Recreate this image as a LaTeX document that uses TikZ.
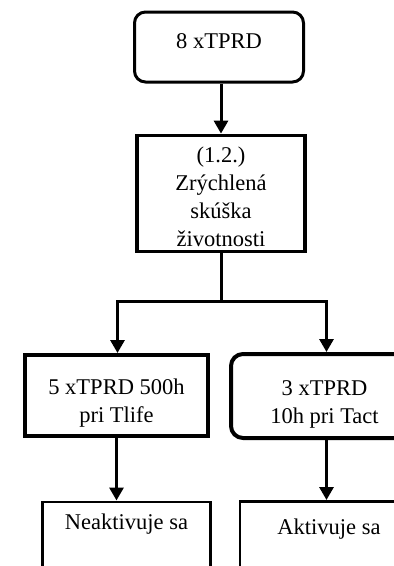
\documentclass[tikz,border=0pt]{standalone}
\usepackage{fontspec}
\setmainfont{Liberation Serif}
\usetikzlibrary{arrows.meta}

\begin{document}
\begin{tikzpicture}[x=1pt, y=-1pt,
        box/.style={draw, line width=3pt, align=center, inner sep=0pt,
            font=\fontsize{22.5}{28}\selectfont},
        rbox/.style={box, rounded corners=11pt},
        arr/.style={line width=3pt, -{Triangle[width=14pt,length=13pt]}}]
        \clip (0,0) rectangle (394,566);
        % top of the chain
        \node[rbox, anchor=north, minimum width=169pt, text height=36pt, text depth=34pt]
            (start) at (219,10.5) {8 xTPRD};
        \node[box, line width=3.3pt, minimum width=168pt, minimum height=116.5pt]
            (test) at (221,193.5) {\rule{0pt}{22pt}(1.2.)\\Zrýchlená\\skúška\\životnosti};
        % the two branches
        \node[box, line width=4pt, minimum width=183pt, minimum height=81pt]
            (ml) at (116.5,395.5) {\rule{0pt}{31pt}5 xTPRD 500h\\pri Tlife};
        \node[rbox, line width=4pt, rounded corners=12pt, minimum width=187pt, minimum height=84pt]
            (mr) at (324.5,396) {\rule{0pt}{31pt}3 xTPRD\\10h pri Tact};
        % results
        \node[box, line width=2.8pt, anchor=north, minimum width=168pt, text height=28pt, text depth=60pt]
            (bl) at (126.5,500.5) {Neaktivuje sa};
        \node[box, line width=2.8pt, anchor=north, minimum width=178pt, text height=33pt, text depth=60pt]
            (br) at (329,500) {Aktivuje sa};
        % connectors
        \coordinate (jl) at (117.5,301);
        \coordinate (jr) at (326.5,301);
        \draw[arr] (test.north |- start.south) -- (test.north);
        \draw[arr] (test.south) -- (test.south |- jl) -- (jl) -- (jl |- ml.north);
        \draw[arr] (test.south |- jl) -- (jr) -- (jr |- mr.north);
        \draw[arr] (ml.south) -- (ml.south |- bl.north);
        \draw[arr] (jr |- mr.south) -- (jr |- br.north);
\end{tikzpicture}
\end{document}
